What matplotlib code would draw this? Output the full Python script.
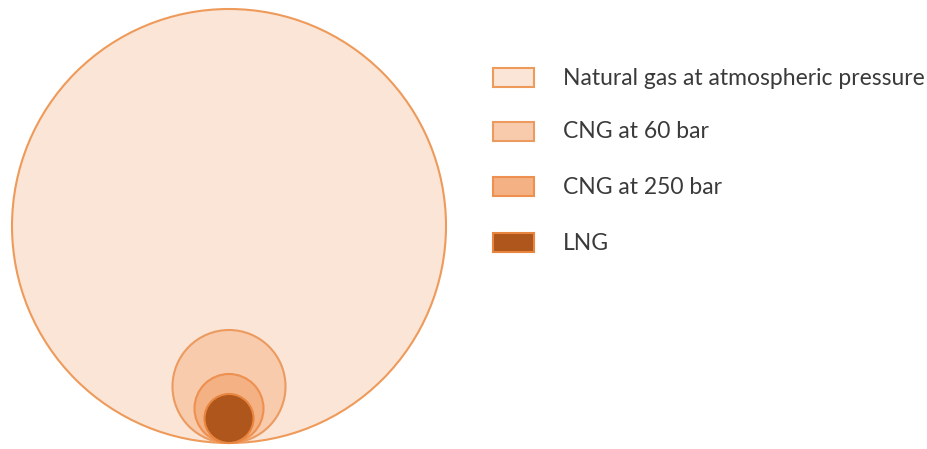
import matplotlib
matplotlib.use("Agg")
import matplotlib.pyplot as plt
from matplotlib.patches import Circle, Rectangle

# Data: relative circle radii (same volume of gas in each state)
labels = ["Natural gas at atmospheric pressure", "CNG at 60 bar", "CNG at 250 bar", "LNG"]
radii = [217, 56.5, 34.5, 24.5]
fills = ["#FBE5D6", "#F8CBAD", "#F4B183", "#AE561B"]
edges = ["#EE9A5A", "#EC9B60", "#EE9050", "#E8853F"]

W, H = 928, 449
fig = plt.figure(figsize=(W / 100, H / 100), dpi=100)
ax = fig.add_axes([0, 0, 1, 1])
ax.set_xlim(0, W)
ax.set_ylim(H, 0)
ax.set_aspect("equal")
ax.axis("off")

cx, base = 229, 443
for r, fc, ec in zip(radii, fills, edges):
    ax.add_patch(Circle((cx, base - r), r, facecolor=fc, edgecolor=ec, linewidth=1.5))

row_y = [77.5, 131, 186.5, 242]
for lab, fc, ec, y in zip(labels, fills, edges, row_y):
    ax.add_patch(Rectangle((493, y - 9.5), 41, 19, facecolor=fc, edgecolor=ec, linewidth=1.5))
    ax.text(563, y + 1, lab, fontsize=16.5, family="Lato", color="#3A3A3A", va="center", ha="left")

fig.savefig("out.png", dpi=100)
